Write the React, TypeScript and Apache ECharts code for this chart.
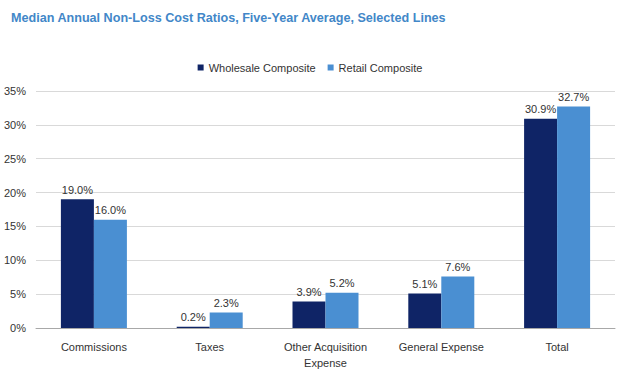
import React, { useEffect, useRef } from "react";
import * as echarts from "echarts";

const categories = ["Commissions", "Taxes", "Other Acquisition\nExpense", "General Expense", "Total"];
const wholesale = [19.0, 0.2, 3.9, 5.1, 30.9];
const retail = [16.0, 2.3, 5.2, 7.6, 32.7];
const seriesNames = ["Wholesale Composite", "Retail Composite"];
const titleText = "Median Annual Non-Loss Cost Ratios, Five-Year Average, Selected Lines";

export default function App() {
  const ref = useRef<HTMLDivElement>(null);
  useEffect(() => {
    const chart = echarts.init(ref.current!, null, { renderer: "svg" });
    const font = "Liberation Sans, Arial, sans-serif";
    const labelCfg = {
      show: true,
      position: "top" as const,
      formatter: (p: any) => p.value.toFixed(1) + "%",
      color: "#333",
      fontSize: 11,
      fontFamily: font,
      distance: 4,
    };
    chart.setOption({
      animation: false,
      backgroundColor: "#fff",
      title: {
        text: titleText,
        left: 6,
        top: 6,
        textStyle: { color: "#4287c8", fontSize: 12.6, fontWeight: "bold", fontFamily: font },
      },
      legend: {
        data: seriesNames,
        top: 57,
        left: "center",
        itemWidth: 6,
        itemHeight: 6,
        itemGap: 12,
        icon: "rect",
        textStyle: { color: "#333", fontSize: 11, fontFamily: font },
      },
      grid: { left: 36, right: 5, top: 91, bottom: 44 },
      xAxis: {
        type: "category",
        data: categories,
        axisTick: { show: false },
        axisLine: { lineStyle: { color: "#a8a8a8", width: 1 } },
        axisLabel: { color: "#333", fontSize: 11, fontFamily: font, margin: 11, lineHeight: 16, interval: 0 },
      },
      yAxis: {
        type: "value",
        min: 0,
        max: 35,
        interval: 5,
        axisLabel: { formatter: "{value}%", color: "#333", fontSize: 11, fontFamily: font, margin: 10 },
        splitLine: { lineStyle: { color: "#d9d9d9" } },
        axisLine: { show: false },
        axisTick: { show: false },
      },
      series: [
        {
          name: seriesNames[0],
          type: "bar",
          data: wholesale,
          itemStyle: { color: "#0f2466" },
          barGap: "0%",
          barCategoryGap: "43%",
          label: labelCfg,
        },
        {
          name: seriesNames[1],
          type: "bar",
          data: retail,
          itemStyle: { color: "#4a8fd2" },
          barGap: "0%",
          barCategoryGap: "43%",
          label: labelCfg,
        },
      ],
    });
    return () => chart.dispose();
  }, []);
  return (
    <div
      ref={ref}
      style={{ position: "fixed", left: 0, top: 0, width: 620, height: 372 }}
    />
  );
}
